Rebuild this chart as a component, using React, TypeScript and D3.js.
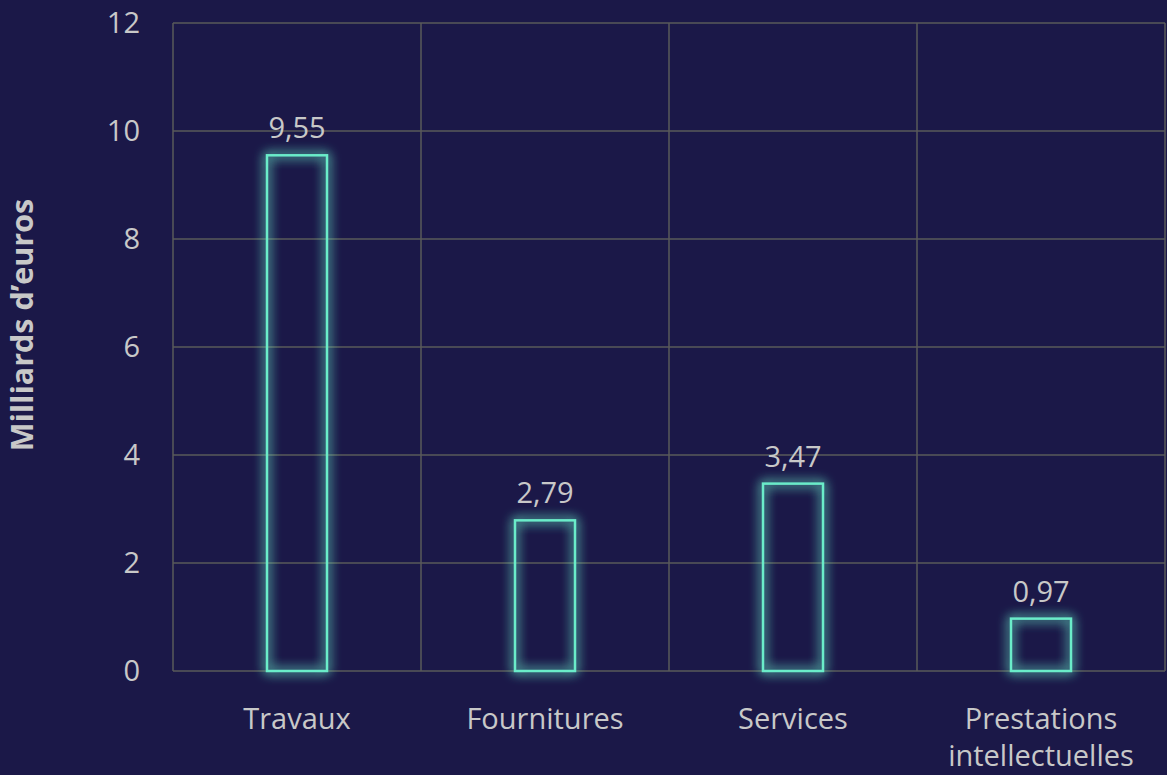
import React from "react";
import * as d3 from "d3";

const categories = [["Travaux"], ["Fournitures"], ["Services"], ["Prestations", "intellectuelles"]];
const values = [9.55, 2.79, 3.47, 0.97];
const yTicks = [0, 2, 4, 6, 8, 10, 12];
const yTitle = "Milliards d\u2019euros";

const W = 1167, H = 775;
const M = { left: 173, right: 2, top: 23, bottom: 104 };

export default function App() {
  const x = d3.scaleBand<number>().domain(values.map((_, i) => i)).range([M.left, W - M.right]).paddingInner(0).paddingOuter(0);
  const y = d3.scaleLinear().domain([0, 12]).range([H - M.bottom, M.top]);
  const barW = 60;
  const font = "'Segoe UI', 'Open Sans', 'Noto Sans', sans-serif";
  const txt = "#c8c8c8";
  const grid = "#5a5a5a";
  const teal = "#6becc9";
  const fs = 29;
  const fmt = (v: number) => v.toFixed(2).replace(".", ",");
  return (
    <svg width={W} height={H} style={{ position: "fixed", left: 0, top: 0, background: "#1b1848" }}>
      <defs>
        <filter id="glow" x="-50%" y="-50%" width="200%" height="200%">
          <feGaussianBlur in="SourceGraphic" stdDeviation="6" result="b" />
          <feMerge>
            <feMergeNode in="b" />
            <feMergeNode in="b" />
            <feMergeNode in="SourceGraphic" />
          </feMerge>
        </filter>
      </defs>
      <rect x={0} y={0} width={W} height={H} fill="#1b1848" />
      {yTicks.map((t) => (
        <g key={t}>
          <line x1={M.left} x2={W - M.right} y1={y(t)} y2={y(t)} stroke={grid} strokeWidth={1.5} />
          <text x={140} y={y(t)} dy="0.35em" textAnchor="end" fill={txt} fontFamily={font} fontSize={fs}>{t}</text>
        </g>
      ))}
      {values.map((_, i) => (
        <line key={"v" + i} x1={x(i)!} x2={x(i)!} y1={M.top} y2={H - M.bottom} stroke={grid} strokeWidth={1.5} />
      ))}
      <line x1={W - M.right} x2={W - M.right} y1={M.top} y2={H - M.bottom} stroke={grid} strokeWidth={1.5} />
      {values.map((v, i) => {
        const cx = x(i)! + x.bandwidth() / 2;
        return (
          <g key={"b" + i}>
            <rect x={cx - barW / 2} y={y(v)} width={barW} height={y(0) - y(v)} fill="none" stroke={teal} strokeWidth={2.5} filter="url(#glow)" />
            <text x={cx} y={y(v) - 17} textAnchor="middle" fill={txt} fontFamily={font} fontSize={fs}>{fmt(v)}</text>
            {categories[i].map((line, j) => (
              <text key={j} x={cx} y={729 + j * 37} textAnchor="middle" fill={txt} fontFamily={font} fontSize={fs}>{line}</text>
            ))}
          </g>
        );
      })}
      <text transform={`translate(33, 325) rotate(-90)`} textAnchor="middle" fill={txt} fontFamily={font} fontSize={30.5} fontWeight="bold">{yTitle}</text>
    </svg>
  );
}
